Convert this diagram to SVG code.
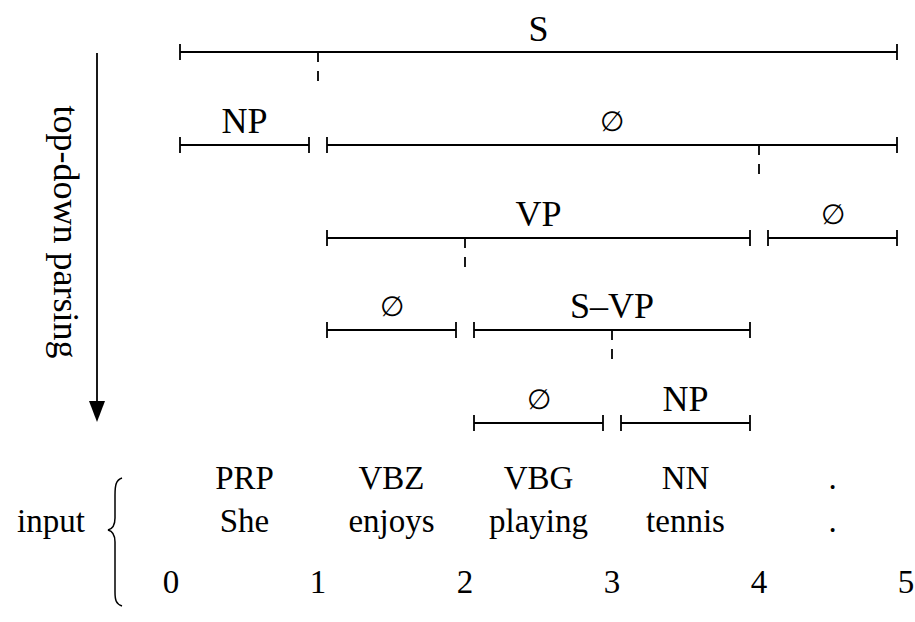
<svg xmlns="http://www.w3.org/2000/svg" width="915" height="622" viewBox="0 0 915 622">
<style>
.lab{font-family:"Liberation Serif","Times New Roman",serif;font-size:36px;fill:#000;text-anchor:middle}
.emp{font-family:"DejaVu Serif",serif;font-size:28px;fill:#000;text-anchor:middle}
.inp{font-family:"Liberation Serif","Times New Roman",serif;font-size:33px;fill:#000;text-anchor:middle}
.span{stroke:#000;stroke-width:1.8;fill:none}
.dash{stroke:#000;stroke-width:1.8;stroke-dasharray:10 9;fill:none}
</style>
<rect width="915" height="622" fill="#fff"/>
<g id="axis">
<line x1="97" y1="53" x2="97" y2="403" stroke="#000" stroke-width="1.8"/>
<polygon points="89,401 105,401 97,422" fill="#000"/>
<text class="lab" transform="translate(54,232) rotate(90)">top-down parsing</text>
</g>
<g id="connectors">
<path class="dash" d="M318,52V82M759,145V175M465,238V268M612,330V360"/>
</g>
<g id="S">
<path class="span" d="M180,52H897M180,44V60M897,44V60"/>
<text class="lab" x="538.5" y="41">S</text>
</g>
<g id="NP1">
<path class="span" d="M180,145H309M180,137V153M309,137V153"/>
<text class="lab" x="244.5" y="133">NP</text>
</g>
<g id="E1">
<path class="span" d="M327,145H897M327,137V153M897,137V153"/>
<text class="emp" x="612" y="131">∅</text>
</g>
<g id="VP">
<path class="span" d="M327,238H750M327,230V246M750,230V246"/>
<text class="lab" x="538.5" y="226">VP</text>
</g>
<g id="E2">
<path class="span" d="M768,238H897M768,230V246M897,230V246"/>
<text class="emp" x="832.5" y="224">∅</text>
</g>
<g id="E3">
<path class="span" d="M327,330H456M327,322V338M456,322V338"/>
<text class="emp" x="391.5" y="316">∅</text>
</g>
<g id="SVP">
<path class="span" d="M474,330H750M474,322V338M750,322V338"/>
<text class="lab" x="612" y="318">S–VP</text>
</g>
<g id="E4">
<path class="span" d="M474,423H603M474,415V431M603,415V431"/>
<text class="emp" x="538.5" y="409">∅</text>
</g>
<g id="NP2">
<path class="span" d="M621,423H750M621,415V431M750,415V431"/>
<text class="lab" x="685.5" y="411">NP</text>
</g>
<g id="input">
<text class="inp" x="51" y="532">input</text>
<path d="M122,478C116,480 115,485 115,495L115,518C115,525 112,529 108,530C112,531 115,535 115,542L115,592C115,600 116,604 122,606" stroke="#000" stroke-width="1.5" fill="none"/>
<text class="inp" x="244.5" y="489">PRP</text>
<text class="inp" x="391.5" y="489">VBZ</text>
<text class="inp" x="538.5" y="489">VBG</text>
<text class="inp" x="685.5" y="489">NN</text>
<text class="inp" x="832.5" y="489">.</text>
<text class="inp" x="244.5" y="532">She</text>
<text class="inp" x="391.5" y="532">enjoys</text>
<text class="inp" x="538.5" y="532">playing</text>
<text class="inp" x="685.5" y="532">tennis</text>
<text class="inp" x="832.5" y="532">.</text>
<text class="inp" x="171" y="593">0</text>
<text class="inp" x="318" y="593">1</text>
<text class="inp" x="465" y="593">2</text>
<text class="inp" x="612" y="593">3</text>
<text class="inp" x="759" y="593">4</text>
<text class="inp" x="906" y="593">5</text>
</g>
</svg>
